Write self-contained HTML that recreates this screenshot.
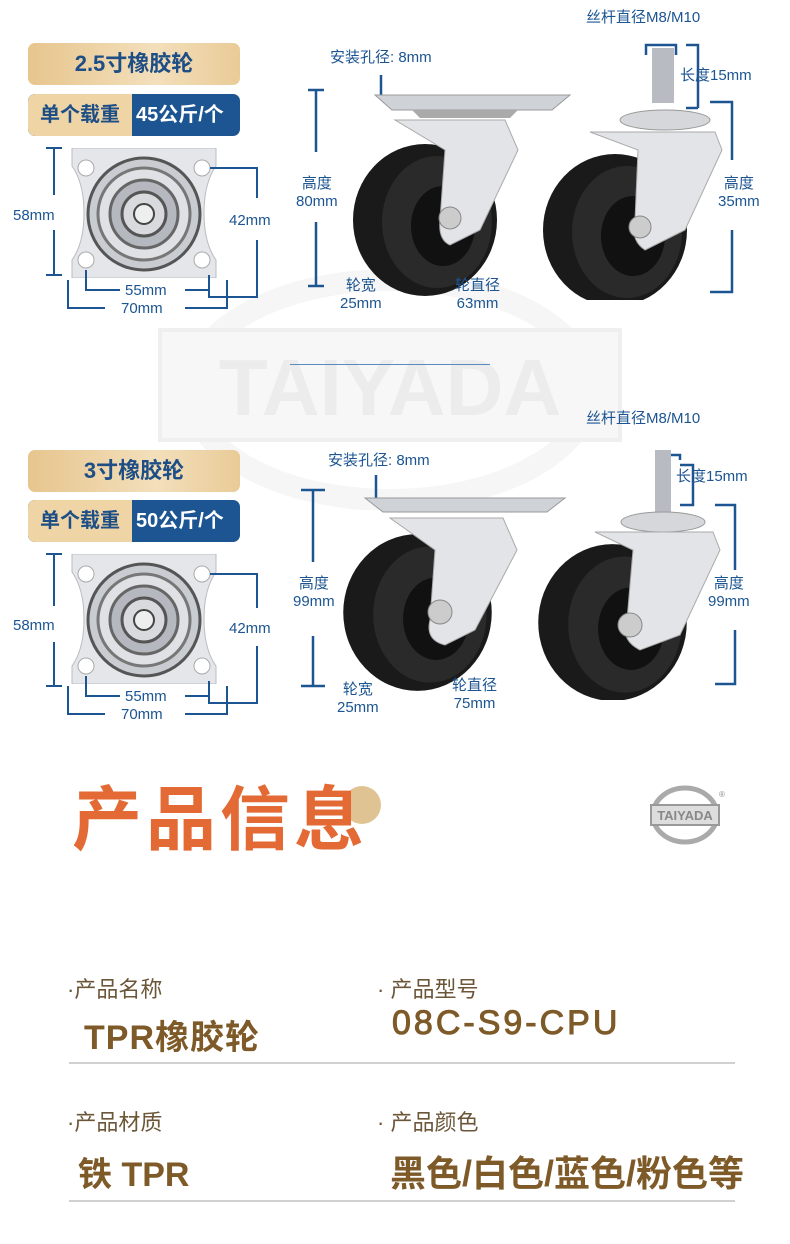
<!DOCTYPE html>
<html><head><meta charset="utf-8"><style>
*{margin:0;padding:0;box-sizing:border-box}
body{width:790px;height:1244px;background:#fff;position:relative;overflow:hidden;font-family:"Liberation Sans","Noto Sans CJK SC",sans-serif}
.a{position:absolute;white-space:nowrap}
.b{color:#1c5591;font-size:15px}
.t1{left:28px;width:212px;height:42px;border-radius:7px;background:linear-gradient(90deg,#e7c58e,#f3dfbb 60%,#e9cb97);color:#1d4e86;font-weight:bold;font-size:22px;text-align:center;line-height:42px}
.t2{left:28px;width:212px;height:42px;border-radius:7px;background:#1c5591;overflow:hidden}
.t2 span{position:absolute;top:0;height:42px;line-height:42px;font-weight:bold;font-size:20px}
.lab{color:#6b5638;font-size:22px}
.val{color:#7d5a28;font-weight:bold;font-size:34px}
</style></head><body>
<!-- watermark -->
<svg class="a" style="left:150px;top:270px" width="480" height="240">
<ellipse cx="240" cy="120" rx="200" ry="110" fill="none" stroke="#f6f6f6" stroke-width="22"/>
<rect x="10" y="60" width="460" height="110" fill="#f7f7f7" stroke="#efefef" stroke-width="4"/>
<text x="240" y="145" text-anchor="middle" font-family="Liberation Sans" font-weight="bold" font-size="80" fill="#ececec">TAIYADA</text>
</svg>
<svg width="0" height="0" style="position:absolute"><defs>
<symbol id="plate" viewBox="0 0 160 130">
<path d="M8 0H152V18Q140 35 140 65Q140 95 152 112V130H8V112Q20 95 20 65Q20 35 8 18Z" fill="#e4e6ea" stroke="#b8bcc2"/>
<circle cx="22" cy="20" r="8" fill="#fff" stroke="#aaa"/><circle cx="138" cy="20" r="8" fill="#fff" stroke="#aaa"/>
<circle cx="22" cy="112" r="8" fill="#fff" stroke="#aaa"/><circle cx="138" cy="112" r="8" fill="#fff" stroke="#aaa"/>
<circle cx="80" cy="66" r="56" fill="#c9ccd1" stroke="#555" stroke-width="3"/>
<circle cx="80" cy="66" r="46" fill="#dfe1e4" stroke="#777" stroke-width="3"/>
<circle cx="80" cy="66" r="34" fill="#b5b9bf" stroke="#666" stroke-width="3"/>
<circle cx="80" cy="66" r="22" fill="#d8dade" stroke="#555" stroke-width="3"/>
<circle cx="80" cy="66" r="10" fill="#eee" stroke="#444" stroke-width="2"/>
</symbol>
<symbol id="wheel" viewBox="0 0 160 160">
<ellipse cx="80" cy="80" rx="72" ry="76" fill="#1a1a1a"/>
<ellipse cx="92" cy="82" rx="55" ry="66" fill="#2a2a2a"/>
<ellipse cx="98" cy="86" rx="32" ry="40" fill="#111"/>
</symbol>
</defs></svg>

<!-- row 1 -->
<div class="a t1" style="top:43px">2.5寸橡胶轮</div>
<div class="a t2" style="top:94px"><span style="left:0;width:104px;background:#efd4a6;color:#1d4e86;text-align:center;border-radius:7px 0 0 7px">单个载重</span><span style="left:108px;color:#fff">45公斤/个</span></div>
<svg class="a" style="left:64px;top:148px" width="160" height="130"><use href="#plate"/></svg>
<svg class="a" style="left:0;top:140px" width="300" height="180" fill="none" stroke="#1c5591" stroke-width="2">
<path d="M46 8H62M54 8V55M54 90V135M46 135H62"/>
<path d="M210 28H257V58M257 100V157H209V135"/>
<path d="M86 130V150H120M185 150H209"/>
<path d="M68 140V168H105M185 168H227V140"/>
</svg>
<div class="a b" style="left:13px;top:207px">58mm</div>
<div class="a b" style="left:229px;top:212px">42mm</div>
<div class="a b" style="left:125px;top:282px">55mm</div>
<div class="a b" style="left:121px;top:300px">70mm</div>

<svg class="a" style="left:300px;top:40px" width="490" height="260">
<g fill="none" stroke="#1c5591" stroke-width="2.5">
<path d="M8 50H24M16 50V112M16 182V246M8 246H24"/>
<path d="M81 35V55"/>
<path d="M126 136L172 222M62 205L86 212"/>
<path d="M346 15V5H376V15M386 5H398V68M398 68H386"/>
<path d="M410 62H432V120M432 190V252H410"/>
</g>
<path d="M75 55H270L252 70H92Z" fill="#cfd2d6" stroke="#999"/>
<path d="M112 70H218L210 78H120Z" fill="#aaa"/>
<use href="#wheel" x="45" y="95" width="160" height="170"/>
<path d="M95 80H205L218 110L180 190L150 205Q138 200 140 180L145 110Z" fill="#e2e4e8" stroke="#aaa"/>
<circle cx="150" cy="178" r="11" fill="#ccc" stroke="#888"/>
<rect x="352" y="8" width="22" height="55" fill="#b8bcc2"/>
<ellipse cx="365" cy="80" rx="45" ry="10" fill="#d5d7db" stroke="#999"/>
<use href="#wheel" x="235" y="105" width="160" height="170"/>
<path d="M290 92H415L422 110L385 190L345 210Q330 200 335 180L338 110Z" fill="#e2e4e8" stroke="#aaa"/>
<circle cx="340" cy="187" r="11" fill="#ccc" stroke="#888"/>
</svg>
<div class="a b" style="left:330px;top:46px">安装孔径: 8mm</div>
<div class="a b" style="left:586px;top:6px">丝杆直径M8/M10</div>
<div class="a b" style="left:680px;top:64px">长度15mm</div>
<div class="a b" style="left:296px;top:172px;text-align:center">高度<br>80mm</div>
<div class="a b" style="left:718px;top:172px;text-align:center">高度<br>35mm</div>
<div class="a b" style="left:340px;top:274px;text-align:center">轮宽<br>25mm</div>
<div class="a b" style="left:455px;top:274px;text-align:center">轮直径<br>63mm</div>
<div class="a" style="left:290px;top:364px;width:200px;height:1px;background:#5a8ac0"></div>

<!-- row 2 -->
<div class="a t1" style="top:450px">3寸橡胶轮</div>
<div class="a t2" style="top:500px"><span style="left:0;width:104px;background:#efd4a6;color:#1d4e86;text-align:center;border-radius:7px 0 0 7px">单个载重</span><span style="left:108px;color:#fff">50公斤/个</span></div>
<svg class="a" style="left:64px;top:554px" width="160" height="130"><use href="#plate"/></svg>
<svg class="a" style="left:0;top:546px" width="300" height="180" fill="none" stroke="#1c5591" stroke-width="2">
<path d="M46 8H62M54 8V60M54 96V140M46 140H62"/>
<path d="M210 28H257V62M257 100V157H209V135"/>
<path d="M86 130V150H120M185 150H209"/>
<path d="M68 140V168H105M185 168H227V140"/>
</svg>
<div class="a b" style="left:13px;top:617px">58mm</div>
<div class="a b" style="left:229px;top:620px">42mm</div>
<div class="a b" style="left:125px;top:688px">55mm</div>
<div class="a b" style="left:121px;top:706px">70mm</div>

<svg class="a" style="left:295px;top:440px" width="495" height="260">
<g fill="none" stroke="#1c5591" stroke-width="2.5">
<path d="M6 50H30M18 50V122M18 196V246M6 246H30"/>
<path d="M81 35V58"/>
<path d="M140 160L168 228M60 210L82 216"/>
<path d="M370 20V15H385V20M385 25H398V65H385"/>
<path d="M420 65H440V130M440 190V244H420"/>
</g>
<path d="M70 58H270L252 72H88Z" fill="#cfd2d6" stroke="#999"/>
<use href="#wheel" x="40" y="85" width="165" height="175"/>
<path d="M95 78H208L222 110L180 190L150 205Q130 200 135 180L140 110Z" fill="#e2e4e8" stroke="#aaa"/>
<circle cx="145" cy="172" r="12" fill="#ccc" stroke="#888"/>
<rect x="360" y="10" width="16" height="65" fill="#b8bcc2"/>
<ellipse cx="368" cy="82" rx="42" ry="10" fill="#d5d7db" stroke="#999"/>
<use href="#wheel" x="235" y="95" width="165" height="175"/>
<path d="M300 92H418L425 110L385 195L345 210Q325 200 332 180L338 110Z" fill="#e2e4e8" stroke="#aaa"/>
<circle cx="335" cy="185" r="12" fill="#ccc" stroke="#888"/>
</svg>
<div class="a b" style="left:328px;top:449px">安装孔径: 8mm</div>
<div class="a b" style="left:586px;top:407px">丝杆直径M8/M10</div>
<div class="a b" style="left:676px;top:465px">长度15mm</div>
<div class="a b" style="left:293px;top:572px;text-align:center">高度<br>99mm</div>
<div class="a b" style="left:708px;top:572px;text-align:center">高度<br>99mm</div>
<div class="a b" style="left:337px;top:678px;text-align:center">轮宽<br>25mm</div>
<div class="a b" style="left:452px;top:674px;text-align:center">轮直径<br>75mm</div>

<!-- product info -->
<div class="a" style="left:343px;top:786px;width:38px;height:38px;border-radius:50%;background:#e0c393"></div>
<div class="a" style="left:72px;top:778px;font-size:70px;font-weight:bold;color:#e36a35;letter-spacing:4px;line-height:84px">产品信息</div>
<svg class="a" style="left:645px;top:785px" width="80" height="60">
<ellipse cx="40" cy="30" rx="32" ry="27" fill="none" stroke="#aaa" stroke-width="5"/>
<rect x="6" y="20" width="68" height="20" fill="#ddd" stroke="#999" stroke-width="2"/>
<text x="40" y="35" text-anchor="middle" font-size="13" font-weight="bold" fill="#888" font-family="Liberation Sans">TAIYADA</text>
<text x="74" y="12" font-size="8" fill="#888">®</text>
</svg>

<div class="a lab" style="left:67px;top:972px">·产品名称</div>
<div class="a lab" style="left:377px;top:972px">· 产品型号</div>
<div class="a val" style="left:84px;top:1010px;letter-spacing:1px">TPR橡胶轮</div>
<div class="a val" style="left:392px;top:1004px;letter-spacing:3px;font-weight:normal;-webkit-text-stroke:1px #7d5a28">08C-S9-CPU</div>
<div class="a" style="left:69px;top:1062px;width:666px;height:2px;background:#d0d0d0"></div>
<div class="a lab" style="left:67px;top:1105px">·产品材质</div>
<div class="a lab" style="left:377px;top:1105px">· 产品颜色</div>
<div class="a val" style="left:78px;top:1147px">铁 TPR</div>
<div class="a val" style="left:390px;top:1145px;font-size:36px">黑色/白色/蓝色/粉色等</div>
<div class="a" style="left:69px;top:1200px;width:666px;height:2px;background:#d0d0d0"></div>
</body></html>
